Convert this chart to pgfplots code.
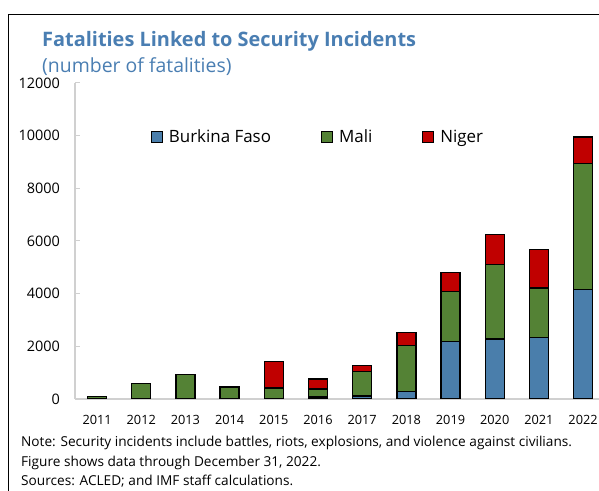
\documentclass[border=0pt]{standalone}
\usepackage{fontspec}
\setmainfont{Open Sans}
\usepackage{pgfplots}
\pgfplotsset{compat=1.18}
\definecolor{bfblue}{HTML}{4A7EAB}
\definecolor{mlgreen}{HTML}{548235}
\definecolor{ngred}{HTML}{C00000}
\definecolor{titleblue}{HTML}{4A7EB2}
\definecolor{axgray}{HTML}{D0D0D0}
\begin{document}
\begin{tikzpicture}[x=1bp,y=1bp]
\useasboundingbox (0,0) rectangle (599,491);
\draw[line width=1.5bp] (8.5,0) -- (8.5,476.5) -- (599,476.5);
\node[anchor=base west, inner sep=0pt, text=titleblue, font=\fontsize{20}{24}\selectfont\bfseries] at (42,444) {Fatalities Linked to Security Incidents};
\node[anchor=base west, inner sep=0pt, text=titleblue, font=\fontsize{19.5}{23}\selectfont] at (42,418) {(number of fatalities)};
\node[anchor=base west, inner sep=0pt, font=\fontsize{13.7}{16}\selectfont] at (21,44) {Note: Security incidents include battles, riots, explosions, and violence against civilians.};
\node[anchor=base west, inner sep=0pt, font=\fontsize{13.7}{16}\selectfont] at (21,24.5) {Figure shows data through December 31, 2022.};
\node[anchor=base west, inner sep=0pt, font=\fontsize{13.7}{16}\selectfont] at (21,5) {Sources: ACLED; and IMF staff calculations.};
\begin{axis}[
  at={(75bp,92bp)}, anchor=south west,
  scale only axis, width=524bp, height=316bp,
  ybar stacked, bar width=0.43,
  xmin=2010.5, xmax=2022.36,
  ymin=0, ymax=12000,
  xtick={2011,...,2022},
  ytick={0,2000,...,12000},
  scaled y ticks=false,
  /pgf/number format/1000 sep={},
  /pgf/number format/assume math mode=true,
  axis lines*=left,
  axis line style={draw=axgray, line width=1.2bp},
  x tick style={draw=none},
  y tick style={draw=axgray, line width=1bp},
  tick align=inside, major tick length=5bp,
  xticklabel style={font=\fontsize{12.8}{14}\selectfont, anchor=north, inner sep=0pt, yshift=-16bp},
  yticklabel style={font=\fontsize{14.5}{16}\selectfont, anchor=east, inner sep=0pt, xshift=-15bp},
  legend columns=3,
  legend style={at={(0.1445,0.83)}, anchor=west, draw=none, fill=none, inner sep=0pt,
    font=\fontsize{17}{19}\selectfont,
    nodes={inner sep=0pt},
    /tikz/every odd column/.append style={column sep=6bp},
    /tikz/every even column/.append style={column sep=50bp}},
  legend image code/.code={\draw[#1, line width=1bp] (0bp,-5.5bp) rectangle (11bp,5.5bp);},
]
\addplot[fill=bfblue, draw=black, line width=1.3bp] coordinates {(2011,0) (2012,0) (2013,0) (2014,0) (2015,20) (2016,80) (2017,110) (2018,290) (2019,2190) (2020,2280) (2021,2340) (2022,4160)};
\addplot[fill=mlgreen, draw=black, line width=1.3bp] coordinates {(2011,90) (2012,600) (2013,920) (2014,430) (2015,400) (2016,300) (2017,930) (2018,1730) (2019,1880) (2020,2830) (2021,1880) (2022,4780)};
\addplot[fill=ngred, draw=black, line width=1.3bp] coordinates {(2011,10) (2012,0) (2013,0) (2014,20) (2015,1010) (2016,380) (2017,240) (2018,510) (2019,740) (2020,1130) (2021,1460) (2022,1010)};
\legend{Burkina Faso, Mali, Niger}
\end{axis}
\end{tikzpicture}
\end{document}
